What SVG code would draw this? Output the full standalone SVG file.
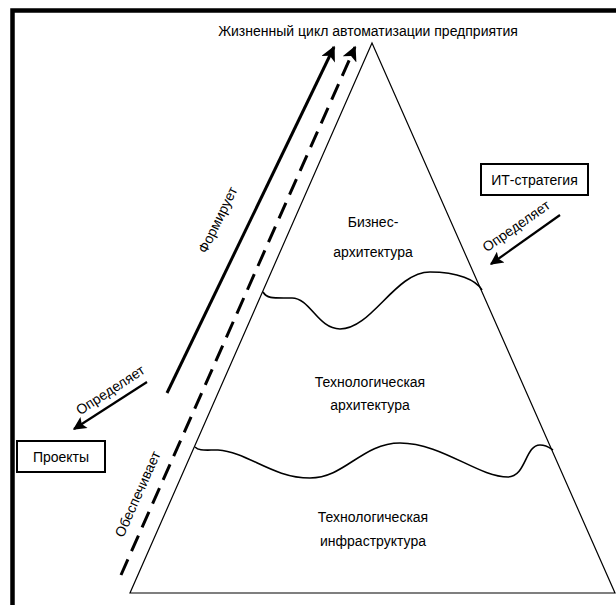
<svg xmlns="http://www.w3.org/2000/svg" width="616" height="605" viewBox="0 0 616 605">
<defs>
<style>
text{font-family:"Liberation Sans",Arial,sans-serif;font-size:14px;fill:#000}
.c{text-anchor:middle}
.box{fill:#fff;stroke:#000;stroke-width:2}
.thin{fill:none;stroke:#000;stroke-width:1.2}
.wave{fill:none;stroke:#000;stroke-width:1.6}
.arr{fill:none;stroke:#000;stroke-width:3;marker-end:url(#ah)}
.arr2{fill:none;stroke:#000;stroke-width:2.2;marker-end:url(#ah2)}
</style>
<marker id="ah" viewBox="0 0 10 10" refX="9" refY="5" markerWidth="5.5" markerHeight="5" markerUnits="strokeWidth" orient="auto">
<path d="M0,0 L10,5 L0,10 L2.5,5 Z" fill="#000"/>
</marker>
<marker id="ah2" viewBox="0 0 10 10" refX="9" refY="5" markerWidth="7" markerHeight="6" markerUnits="strokeWidth" orient="auto">
<path d="M0,0 L10,5 L0,10 L2,5 Z" fill="#000"/>
</marker>
</defs>
<rect width="616" height="605" fill="#fff"/>
<path d="M12.5,605 V10.5 H616" fill="none" stroke="#000" stroke-width="4.5"/>
<g id="title"><text class="c" x="368" y="36">Жизненный цикл автоматизации предприятия</text></g>
<g id="pyramid">
<path class="thin" d="M372,43 L615,593 L130,593 Z"/>
</g>
<g id="layer-business">
<path class="wave" d="M263,292 C267,299 274,298 292,298 C310,298 318,329 340,329 C372,329 395,272 430,272 C458,272 476,280 482,290"/>
<text class="c" x="373" y="227">Бизнес-</text>
<text class="c" x="373" y="257">архитектура</text>
</g>
<g id="layer-tech-arch">
<path class="wave" d="M195,447 C199,451 204,450 218,450 C248,452 272,478 310,478 C345,478 362,443 400,443 C442,443 478,477 508,477 C526,477 525,445 540,445 C547,445 550,448 553,450"/>
<text class="c" x="370" y="387">Технологическая</text>
<text class="c" x="370" y="410">архитектура</text>
</g>
<g id="layer-tech-infra">
<text class="c" x="373" y="522">Технологическая</text>
<text class="c" x="373" y="546">инфраструктура</text>
</g>
<g id="it-strategy">
<rect class="box" x="481" y="164" width="107" height="31"/>
<text class="c" x="534.5" y="185">ИТ-стратегия</text>
</g>
<g id="projects">
<rect class="box" x="17" y="441" width="88" height="31"/>
<text class="c" x="61" y="462">Проекты</text>
</g>
<g id="connectors">
<path class="arr" d="M167,393 L334,47"/>
<path class="arr" d="M121,575 L355,47" stroke-dasharray="17 9"/>
<path class="arr2" d="M560,215 L491,264"/>
<path class="arr2" d="M147,382 L74,429"/>
<text class="c" transform="translate(222,222) rotate(-64)">Формирует</text>
<text class="c" transform="translate(142,496) rotate(-66)">Обеспечивает</text>
<text class="c" transform="translate(519,230) rotate(-35)">Определяет</text>
<text class="c" transform="translate(113,394) rotate(-33)">Определяет</text>
</g>
</svg>
